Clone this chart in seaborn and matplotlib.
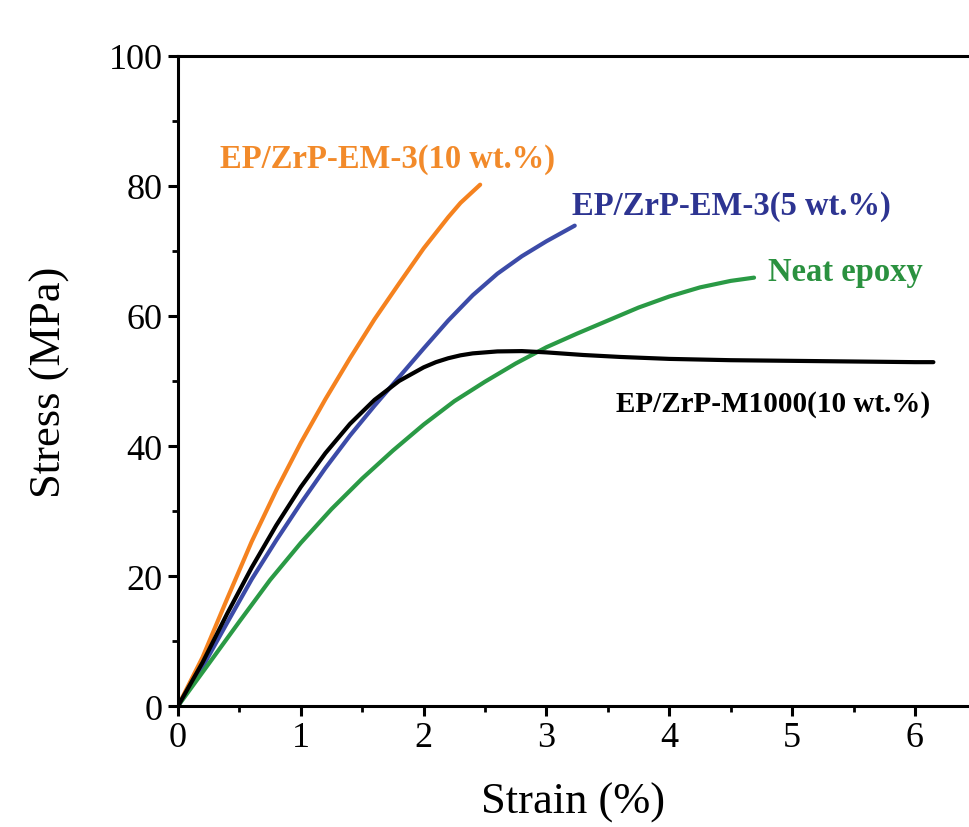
import numpy as np
import pandas as pd
import matplotlib
matplotlib.use("Agg")
import matplotlib.pyplot as plt
import seaborn as sns
from matplotlib.ticker import MultipleLocator

# ---- data ----
strain_em3_10 = [0, 0.2, 0.4, 0.6, 0.8, 1.0, 1.2, 1.4, 1.6, 1.8, 2.0, 2.2, 2.3, 2.46]
stress_em3_10 = [0, 7.5, 16.5, 25.3, 33.2, 40.5, 47.2, 53.5, 59.5, 65.0, 70.4, 75.2,
                 77.4, 80.2]

strain_em3_5 = [0, 0.2, 0.4, 0.6, 0.8, 1.0, 1.2, 1.4, 1.6, 1.8, 2.0, 2.2, 2.4, 2.6,
                2.8, 3.0, 3.23]
stress_em3_5 = [0, 6.0, 12.8, 19.5, 25.5, 31.2, 36.6, 41.6, 46.2, 50.6, 55.0, 59.3,
                63.2, 66.5, 69.2, 71.5, 73.9]

strain_neat = [0, 0.25, 0.5, 0.75, 1.0, 1.25, 1.5, 1.75, 2.0, 2.25, 2.5, 2.75, 3.0,
               3.25, 3.5, 3.75, 4.0, 4.25, 4.5, 4.69]
stress_neat = [0, 6.5, 13.0, 19.4, 25.1, 30.3, 35.0, 39.3, 43.3, 46.9, 49.9, 52.7,
               55.2, 57.3, 59.3, 61.3, 63.0, 64.4, 65.4, 65.9]

strain_m1000 = [0, 0.2, 0.4, 0.6, 0.8, 1.0, 1.2, 1.4, 1.6, 1.8, 2.0, 2.1, 2.2, 2.3,
                2.4, 2.6, 2.8, 3.0, 3.3, 3.6, 4.0, 4.5, 5.0, 5.5, 6.0, 6.15]
stress_m1000 = [0, 6.7, 14.2, 21.3, 27.8, 33.7, 38.9, 43.4, 47.1, 50.0, 52.1, 52.9,
                53.5, 53.95, 54.25, 54.55, 54.6, 54.4, 54.0, 53.7, 53.4, 53.2, 53.1,
                53.0, 52.9, 52.9]

series_names = ["EP/ZrP-EM-3(10 wt.%)", "EP/ZrP-EM-3(5 wt.%)", "Neat epoxy",
                "EP/ZrP-M1000(10 wt.%)"]
line_colors = ["#F5821F", "#3C4BA8", "#2A9A45", "#000000"]
text_colors = ["#F28A2A", "#2D3491", "#2A913F", "#000000"]
label_pos_x = [0.34, 3.21, 4.80, 3.57]
label_pos_y = [84.2, 77.0, 66.9, 46.6]
label_sizes = [23.5, 23.5, 23.5, 21.0]

frames = []
for name, xs, ys in zip(series_names,
                        [strain_em3_10, strain_em3_5, strain_neat, strain_m1000],
                        [stress_em3_10, stress_em3_5, stress_neat, stress_m1000]):
    frames.append(pd.DataFrame({"Strain": xs, "Stress": ys, "Sample": name}))
df = pd.concat(frames, ignore_index=True)

# ---- style ----
sns.set_theme(style="ticks")
plt.rcParams["font.family"] = ["Liberation Serif", "DejaVu Serif"]
plt.rcParams["axes.linewidth"] = 2.2

fig = plt.figure(figsize=(9.69, 8.28), dpi=100)
ax = fig.add_axes([0.1837, 0.1461, 1.0 - 0.1837, 0.9312 - 0.1461])

sns.lineplot(data=df, x="Strain", y="Stress", hue="Sample", hue_order=series_names,
             palette=dict(zip(series_names, line_colors)), sort=False,
             estimator=None, linewidth=3.0, legend=False, ax=ax)
for ln in ax.get_lines():
    ln.set_solid_joinstyle("round")
    ln.set_solid_capstyle("round")

for name, c, tx, ty, fs in zip(series_names, text_colors, label_pos_x, label_pos_y,
                               label_sizes):
    ax.text(tx, ty, name, color=c, fontsize=fs, fontweight="bold",
            ha="left", va="center")

ax.set_xlim(0, 6.44)
ax.set_ylim(0, 100)
ax.xaxis.set_major_locator(MultipleLocator(1))
ax.xaxis.set_minor_locator(MultipleLocator(0.5))
ax.yaxis.set_major_locator(MultipleLocator(20))
ax.yaxis.set_minor_locator(MultipleLocator(10))
ax.tick_params(which="major", direction="out", length=7, width=2.2,
               labelsize=26, color="black", labelcolor="black", pad=4)
ax.tick_params(which="minor", direction="out", length=4, width=2.0, color="black")
ax.tick_params(top=False, right=False, which="both")
ax.spines["right"].set_visible(False)
for s in ["left", "bottom", "top"]:
    ax.spines[s].set_color("black")

ax.set_xlabel("Strain (%)", fontsize=32, color="black", labelpad=20)
ax.set_ylabel("Stress (MPa)", fontsize=32, color="black", labelpad=28)

fig.savefig("out.png", dpi=100, facecolor="white")
